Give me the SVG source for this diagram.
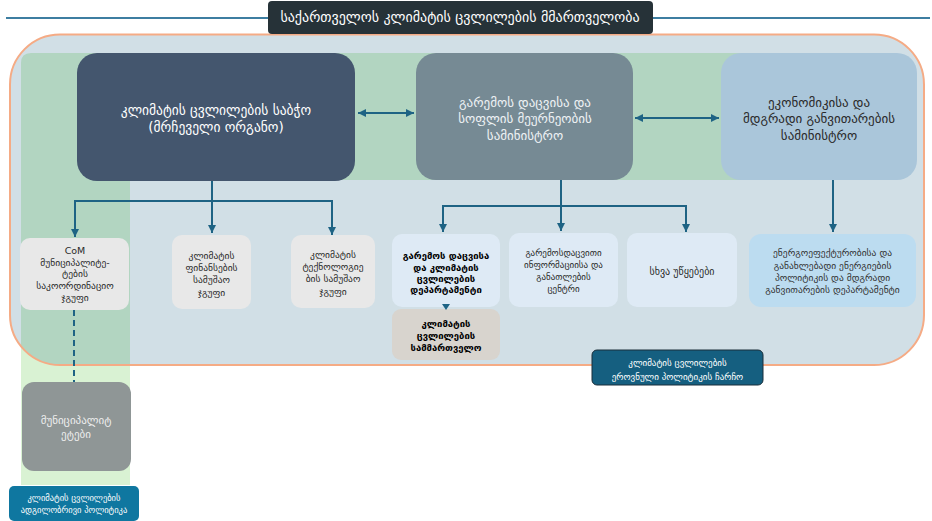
<svg xmlns="http://www.w3.org/2000/svg" width="932" height="521" viewBox="0 0 932 521">
<defs>
<marker id="ah" viewBox="0 0 8 8" refX="8" refY="4" markerWidth="8" markerHeight="8" markerUnits="userSpaceOnUse" orient="auto-start-reverse">
<path d="M0,0 L8,4 L0,8 z" fill="#1e6384"/>
</marker>
<clipPath id="bigclip"><rect x="10" y="34.5" width="914" height="330.5" rx="50"/></clipPath>
<style>
text{font-family:"DejaVu Sans","Noto Sans",sans-serif;text-anchor:middle}
.conn{fill:none;stroke:#1e6384;stroke-width:2}
.w{fill:#ffffff}
.d{fill:#2a2a2a}
</style>
</defs>
<rect width="932" height="521" fill="#ffffff"/>
<line x1="6" y1="18" x2="930" y2="18" stroke="#3d7ea1" stroke-width="2"/>
<rect x="21" y="300" width="109" height="185" fill="#d9f2d3"/>
<rect x="10" y="34.5" width="914" height="330.5" rx="50" fill="#d1dfe6"/>
<g clip-path="url(#bigclip)">
<path d="M31 53 H800 V180 H130 V380 H21 V63 Q21 53 31 53 Z" fill="#b2d5c1"/>
</g>
<rect x="10" y="34.5" width="914" height="330.5" rx="50" fill="none" stroke="#f5ab85" stroke-width="2"/>

<g id="title">
<rect x="268" y="1" width="385" height="33" rx="4" fill="#263238"/>
<text x="460" y="22" font-size="14" class="w">საქართველოს კლიმატის ცვლილების მმართველობა</text>
</g>

<g id="council">
<rect x="77" y="53" width="278" height="128" rx="20" fill="#44566e"/>
<text x="216" y="115" font-size="13.5" class="w">კლიმატის ცვლილების საბჭო</text>
<text x="216" y="132" font-size="13.5" class="w">(მრჩეველი ორგანო)</text>
</g>

<g id="ministry-env">
<rect x="416" y="53" width="217" height="127" rx="20" fill="#768a94"/>
<text x="525" y="107" font-size="13" fill="#eef2f4">გარემოს დაცვისა და</text>
<text x="525" y="123" font-size="13" fill="#eef2f4">სოფლის მეურნეობის</text>
<text x="525" y="140" font-size="13" fill="#eef2f4">სამინისტრო</text>
</g>

<g id="ministry-econ">
<rect x="721" y="53" width="196" height="127" rx="20" fill="#aac6da"/>
<text x="819" y="107" font-size="13" class="d">ეკონომიკისა და</text>
<text x="819" y="123" font-size="13" class="d">მდგრადი განვითარების</text>
<text x="819" y="140" font-size="13" class="d">სამინისტრო</text>
</g>

<g id="com-group">
<rect x="20" y="238" width="109" height="72" rx="10" fill="#e8e8e8"/>
<text x="75" y="253.5" font-size="9.5" class="d">CoM</text>
<text x="75" y="265.5" font-size="9.5" class="d">მუნიციპალიტე-</text>
<text x="75" y="276.5" font-size="9.5" class="d">ტების</text>
<text x="75" y="288.5" font-size="9.5" class="d">საკოორდინაციო</text>
<text x="75" y="300.5" font-size="9.5" class="d">ჯგუფი</text>
</g>

<g id="finance-group">
<rect x="172" y="235" width="79" height="74" rx="10" fill="#e8e8e8"/>
<text x="211.5" y="258.5" font-size="9.5" class="d">კლიმატის</text>
<text x="211.5" y="270.5" font-size="9.5" class="d">ფინანსების</text>
<text x="211.5" y="282.5" font-size="9.5" class="d">სამუშაო</text>
<text x="211.5" y="295.5" font-size="9.5" class="d">ჯგუფი</text>
</g>

<g id="tech-group">
<rect x="291" y="235" width="84" height="73" rx="10" fill="#e8e8e8"/>
<text x="333" y="257.5" font-size="9.5" class="d">კლიმატის</text>
<text x="333" y="269.5" font-size="9.5" class="d">ტექნოლოგიე</text>
<text x="333" y="281.5" font-size="9.5" class="d">ბის სამუშაო</text>
<text x="333" y="294.5" font-size="9.5" class="d">ჯგუფი</text>
</g>

<g id="dept-env">
<rect x="392" y="234" width="108" height="73" rx="10" fill="#deeaf5"/>
<text x="446" y="258.5" font-size="9.5" font-weight="bold" fill="#000">გარემოს დაცვისა</text>
<text x="446" y="270.5" font-size="9.5" font-weight="bold" fill="#000">და კლიმატის</text>
<text x="446" y="281.5" font-size="9.5" font-weight="bold" fill="#000">ცვლილების</text>
<text x="446" y="292.5" font-size="9.5" font-weight="bold" fill="#000">დეპარტამენტი</text>
</g>

<g id="climate-office">
<rect x="392" y="309" width="108" height="51" rx="9" fill="#d8d4ce"/>
<text x="446" y="326.5" font-size="9.5" font-weight="bold" fill="#000">კლიმატის</text>
<text x="446" y="338.5" font-size="9.5" font-weight="bold" fill="#000">ცვლილების</text>
<text x="446" y="350.5" font-size="9.5" font-weight="bold" fill="#000">სამმართველო</text>
</g>

<g id="info-center">
<rect x="509" y="233" width="109" height="74" rx="10" fill="#deeaf5"/>
<text x="563.5" y="256" font-size="9" class="d">გარემოსდაცვითი</text>
<text x="563.5" y="268" font-size="9" class="d">ინფორმაციისა და</text>
<text x="563.5" y="280" font-size="9" class="d">განათლების</text>
<text x="563.5" y="292" font-size="9" class="d">ცენტრი</text>
</g>

<g id="other-agencies">
<rect x="627" y="233" width="110" height="74" rx="10" fill="#deeaf5"/>
<text x="682" y="274.5" font-size="10" class="d">სხვა უწყებები</text>
</g>

<g id="dept-energy">
<rect x="749" y="234" width="167" height="73" rx="12" fill="#bcdcf0"/>
<text x="832.5" y="255.5" font-size="9.5" fill="#333">ენერგოეფექტურობისა და</text>
<text x="832.5" y="268.5" font-size="9.5" fill="#333">განახლებადი ენერგიების</text>
<text x="832.5" y="280.5" font-size="9.5" fill="#333">პოლიტიკის და მდგრადი</text>
<text x="832.5" y="292.5" font-size="9.5" fill="#333">განვითარების დეპარტამენტი</text>
</g>

<g id="national-label">
<rect x="592" y="350" width="171" height="35" rx="5" fill="#155f80" stroke="#1a2e3a" stroke-width="1"/>
<text x="677.5" y="366" font-size="9" class="w">კლიმატის ცვლილების</text>
<text x="677.5" y="380" font-size="9" class="w">ეროვნული პოლიტიკის ჩარჩო</text>
</g>

<g id="municipalities">
<rect x="22" y="382" width="109" height="89" rx="12" fill="#8f9696"/>
<text x="76" y="424" font-size="11" fill="#eeeeee">მუნიციპალიტ</text>
<text x="76" y="438" font-size="11" fill="#eeeeee">ეტები</text>
</g>

<g id="local-label">
<rect x="9" y="486" width="130" height="35" rx="5" fill="#0f77a0"/>
<text x="74" y="501" font-size="8.5" class="w">კლიმატის ცვლილების</text>
<text x="74" y="513" font-size="8.5" class="w">ადგილობრივი პოლიტიკა</text>
</g>

<g id="connectors">
<path class="conn" d="M358 113 H414" marker-start="url(#ah)" marker-end="url(#ah)"/>
<path class="conn" d="M635 118 H719" marker-start="url(#ah)" marker-end="url(#ah)"/>
<path class="conn" d="M212 181 V233" marker-end="url(#ah)"/>
<path class="conn" d="M212 201 H75 V237" marker-end="url(#ah)"/>
<path class="conn" d="M212 201 H332 V235" marker-end="url(#ah)"/>
<path class="conn" d="M561 180 V231" marker-end="url(#ah)"/>
<path class="conn" d="M561 206 H443 V232" marker-end="url(#ah)"/>
<path class="conn" d="M561 206 H686 V232" marker-end="url(#ah)"/>
<path class="conn" d="M833 180 V232" marker-end="url(#ah)"/>
<polygon points="442,304 450,304 446,310" fill="#1e6384"/>
<path class="conn" d="M74 310 V382" stroke-dasharray="6 4"/>
</g>
</svg>
